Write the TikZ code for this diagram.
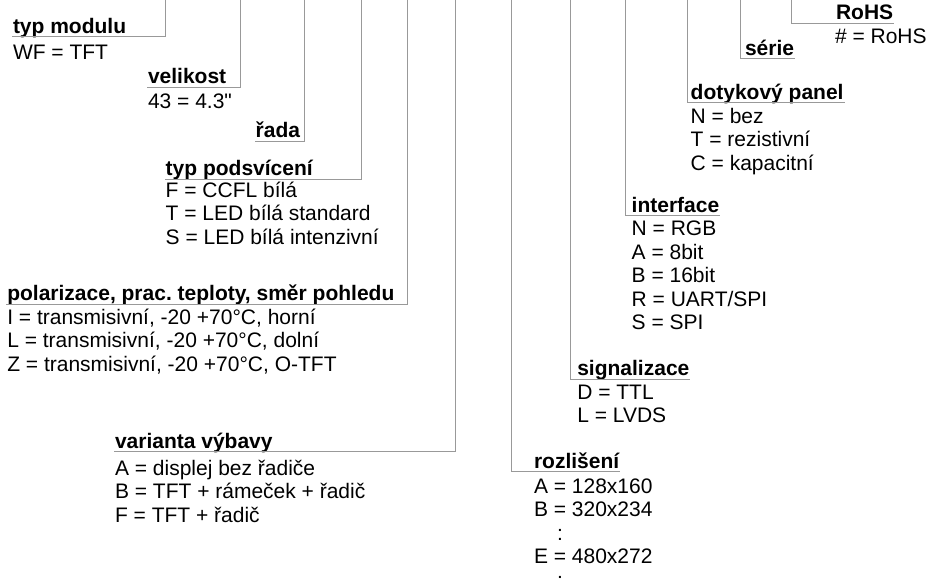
\documentclass[tikz,border=0pt]{standalone}
\usepackage{fontspec}
\setmainfont{Liberation Sans}[Ligatures=TeXOff]
\usepackage{tikz}
\definecolor{linegray}{gray}{0.6}
\frenchspacing

\begin{document}
\begin{tikzpicture}[x=1pt,y=-1pt]
\tikzstyle{every node}=[inner sep=0pt,outer sep=0pt,anchor=base west,font=\fontsize{21}{23.5}\selectfont]
\tikzstyle{head}=[font=\fontsize{21}{23.5}\selectfont\bfseries,inner xsep=1pt]
\tikzstyle{vals}=[align=left]
\tikzstyle{conn}=[draw=linegray,line width=1pt]
\useasboundingbox (0,0) rectangle (928,583);

\coordinate (modul-top) at (165.7,0);
\coordinate (velikost-top) at (240.7,0);
\coordinate (rada-top) at (304.3,0);
\coordinate (podsv-top) at (361,0);
\coordinate (polar-top) at (407.3,0);
\coordinate (varianta-top) at (455.3,0);
\coordinate (rozl-top) at (511.7,0);
\coordinate (signal-top) at (570,0);
\coordinate (iface-top) at (625,0);
\coordinate (panel-top) at (687.7,0);
\coordinate (serie-top) at (740,0);
\coordinate (rohs-top) at (791,0);

\node[head] (modul) at (12,33.5) {typ modulu};
\node[vals] (modul-v) at (13,60) {WF = TFT};
\node[head] (velikost) at (147,84) {velikost};
\node[vals] (velikost-v) at (148,109) {43 = 4.3"};
\node[head] (rada) at (254.7,137.5) {řada};
\node[head] (podsv) at (164.7,175.5) {typ podsvícení};
\node[vals] (podsv-v) at (165.7,244) {F = CCFL bílá\\T = LED bílá standard\\S = LED bílá intenzivní};
\node[head] (polar) at (6.3,300.5) {polarizace, prac. teploty, směr pohledu};
\node[vals] (polar-v) at (7.3,371) {I = transmisivní, -20 +70°C, horní\\L = transmisivní, -20 +70°C, dolní\\Z = transmisivní, -20 +70°C, O-TFT};
\node[head] (varianta) at (114,448) {varianta výbavy};
\node[vals] (varianta-v) at (115,522) {A = displej bez řadiče\\B = TFT + rámeček + řadič\\F = TFT + řadič};
\node[head] (rozl) at (533,468) {rozlišení};
\node[vals] (rozl-v) at (534,587) {A = 128x160\\B = 320x234\\\hspace*{23pt}:\\E = 480x272\\\hspace*{23pt}:};
\node[head] (signal) at (576.3,375.5) {signalizace};
\node[vals] (signal-v) at (577.3,422.5) {D = TTL\\L = LVDS};
\node[head] (iface) at (630.7,212) {interface};
\node[vals] (iface-v) at (631.7,329.5) {N = RGB\\A = 8bit\\B = 16bit\\R = UART/SPI\\S = SPI};
\node[head] (panel) at (689.7,99.5) {dotykový panel};
\node[vals] (panel-v) at (690.7,170) {N = bez\\T = rezistivní\\C = kapacitní};
\node[head] (serie) at (744,55.5) {série};
\node[head] (rohs) at (835,20) {RoHS};
\node[vals] (rohs-v) at (835,44) {\# = RoHS};

\draw[conn] (modul-top) |- ([yshift=-3.5pt]modul.base west);
\draw[conn] (velikost-top) |- ([yshift=-3.5pt]velikost.base west);
\draw[conn] (rada-top) |- ([yshift=-3.5pt]rada.base west);
\draw[conn] (podsv-top) |- ([yshift=-3.5pt]podsv.base west);
\draw[conn] (polar-top) |- ([yshift=-3.5pt]polar.base west);
\draw[conn] (varianta-top) |- ([yshift=-3.5pt]varianta.base west);
\draw[conn] (rozl-top) |- ([yshift=-3.5pt]rozl.base east);
\draw[conn] (signal-top) |- ([yshift=-3.5pt]signal.base east);
\draw[conn] (iface-top) |- ([yshift=-3.5pt]iface.base east);
\draw[conn] (panel-top) |- ([yshift=-3.5pt]panel.base east);
\draw[conn] (serie-top) |- ([yshift=-3.5pt]serie.base east);
\draw[conn] (rohs-top) |- ([yshift=-3.5pt]rohs.base east);
\end{tikzpicture}
\end{document}
